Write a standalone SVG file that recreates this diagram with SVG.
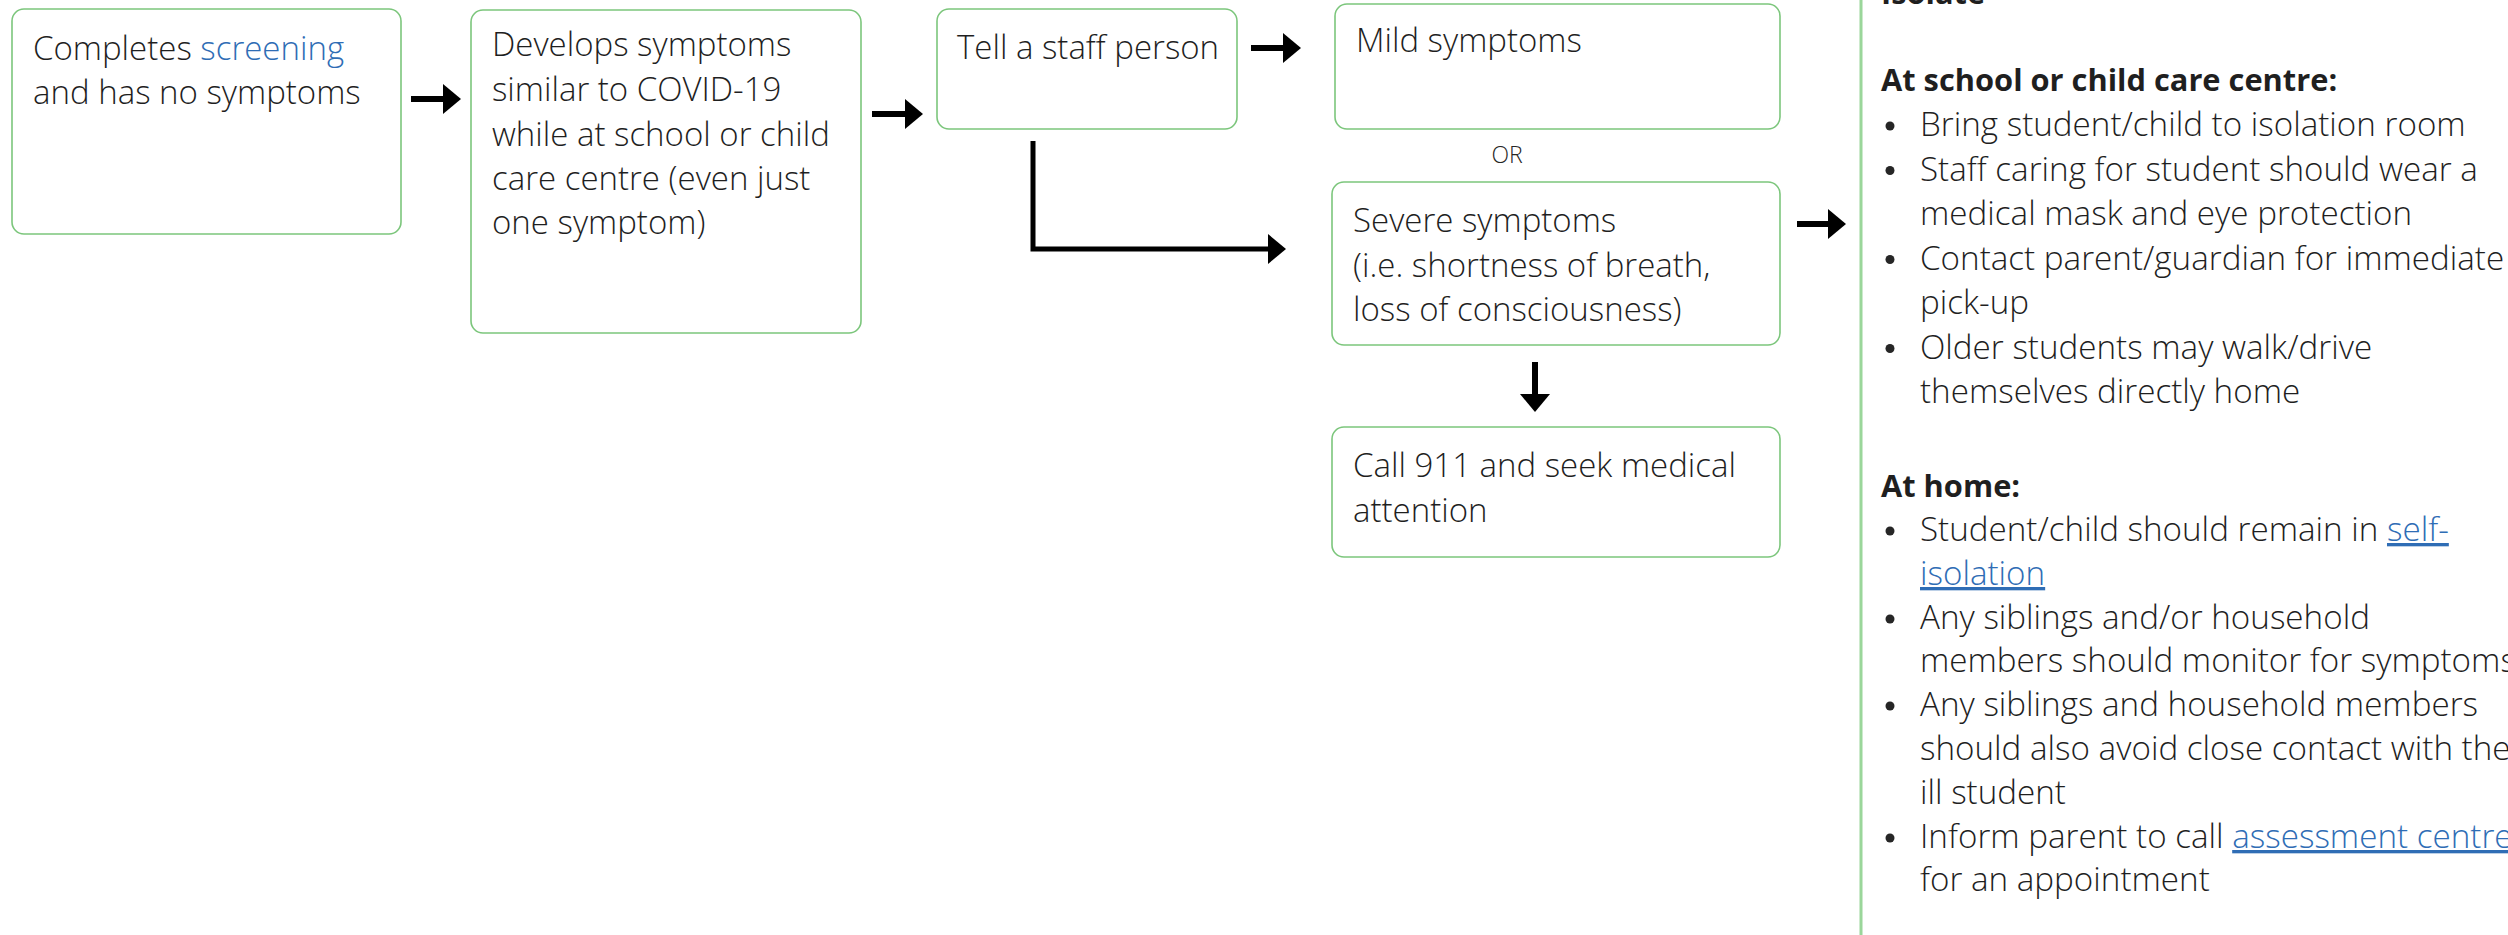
<svg xmlns="http://www.w3.org/2000/svg" width="2508" height="935" viewBox="0 0 2508 935">
<style>
.box{fill:#ffffff;stroke:#7cc67c;stroke-width:1.6}
.t{font-family:"Open Sans","Liberation Sans",sans-serif;font-size:33px;font-weight:300;fill:#1f1f1f}
.p{font-size:33.2px}
.or{font-family:"Open Sans","Liberation Sans",sans-serif;font-size:23px;font-weight:300;fill:#262626}
.b{font-weight:700;font-size:30.8px}
.link{fill:#2f6db5}
.u{text-decoration:underline}
.conn{fill:none;stroke:#000000;stroke-width:6}
.elbow{fill:none;stroke:#000000;stroke-width:5}
.bul{fill:#262626}
</style>
<defs>
<marker id="ah" markerUnits="userSpaceOnUse" markerWidth="18" markerHeight="30" refX="0" refY="15" orient="auto">
<path d="M0,0 L18,15 L0,30 z" fill="#000000"/>
</marker>
</defs>
<rect width="2508" height="935" fill="#ffffff"/>

<g id="node-screening">
<rect class="box" x="12" y="9" width="389" height="225" rx="12"/>
<text class="t" x="33" y="60">Completes <tspan class="link">screening</tspan></text>
<text class="t" x="33" y="104">and has no symptoms</text>
</g>

<g id="node-develops">
<rect class="box" x="471" y="10" width="390" height="323" rx="12"/>
<text class="t" x="492" y="56">Develops symptoms</text>
<text class="t" x="492" y="101">similar to COVID-19</text>
<text class="t" x="492" y="146">while at school or child</text>
<text class="t" x="492" y="190">care centre (even just</text>
<text class="t" x="492" y="234">one symptom)</text>
</g>

<g id="node-tell">
<rect class="box" x="937" y="9" width="300" height="120" rx="12"/>
<text class="t" x="957" y="59">Tell a staff person</text>
</g>

<g id="node-mild">
<rect class="box" x="1335" y="4" width="445" height="125" rx="12"/>
<text class="t" x="1356" y="52">Mild symptoms</text>
</g>

<g id="label-or">
<text class="or" x="1507" y="163" text-anchor="middle">OR</text>
</g>

<g id="node-severe">
<rect class="box" x="1332" y="182" width="448" height="163" rx="12"/>
<text class="t" x="1353" y="232">Severe symptoms</text>
<text class="t" x="1353" y="277">(i.e. shortness of breath,</text>
<text class="t" x="1353" y="321">loss of consciousness)</text>
</g>

<g id="node-call911">
<rect class="box" x="1332" y="427" width="448" height="130" rx="12"/>
<text class="t" x="1353" y="477">Call 911 and seek medical</text>
<text class="t" x="1353" y="522">attention</text>
</g>

<g id="connectors">
<path class="conn" d="M411,99 L443,99" marker-end="url(#ah)"/>
<path class="conn" d="M872,114 L905,114" marker-end="url(#ah)"/>
<path class="conn" d="M1251,48 L1283,48" marker-end="url(#ah)"/>
<path class="elbow" d="M1033,141 L1033,249 L1268,249" marker-end="url(#ah)"/>
<path class="conn" d="M1535,362 L1535,394" marker-end="url(#ah)"/>
<path class="conn" d="M1797,224 L1828,224" marker-end="url(#ah)"/>
</g>

<g id="panel-isolate">
<line x1="1861" y1="0" x2="1861" y2="935" stroke="#9ad69a" stroke-width="3"/>
<text class="t b" x="1881" y="4">Isolate</text>
<text class="t b" x="1881" y="91">At school or child care centre:</text>
<circle class="bul" cx="1890" cy="126" r="4.5"/>
<text class="t p" x="1920" y="136">Bring student/child to isolation room</text>
<circle class="bul" cx="1890" cy="170.5" r="4.5"/>
<text class="t p" x="1920" y="180.5">Staff caring for student should wear a</text>
<text class="t p" x="1920" y="225">medical mask and eye protection</text>
<circle class="bul" cx="1890" cy="259.5" r="4.5"/>
<text class="t p" x="1920" y="269.5">Contact parent/guardian for immediate</text>
<text class="t p" x="1920" y="314">pick-up</text>
<circle class="bul" cx="1890" cy="348.5" r="4.5"/>
<text class="t p" x="1920" y="358.5">Older students may walk/drive</text>
<text class="t p" x="1920" y="403">themselves directly home</text>

<text class="t b" x="1881" y="497">At home:</text>
<circle class="bul" cx="1890" cy="531" r="4.5"/>
<text class="t p" x="1920" y="541">Student/child should remain in <tspan class="link u">self-</tspan></text>
<text class="t p link u" x="1920" y="585">isolation</text>
<circle class="bul" cx="1890" cy="619" r="4.5"/>
<text class="t p" x="1920" y="629">Any siblings and/or household</text>
<text class="t p" x="1920" y="672">members should monitor for symptoms</text>
<circle class="bul" cx="1890" cy="706" r="4.5"/>
<text class="t p" x="1920" y="716">Any siblings and household members</text>
<text class="t p" x="1920" y="760">should also avoid close contact with the</text>
<text class="t p" x="1920" y="804">ill student</text>
<circle class="bul" cx="1890" cy="838" r="4.5"/>
<text class="t p" x="1920" y="848">Inform parent to call <tspan class="link u">assessment centre</tspan></text>
<text class="t p" x="1920" y="891">for an appointment</text>
</g>
</svg>
